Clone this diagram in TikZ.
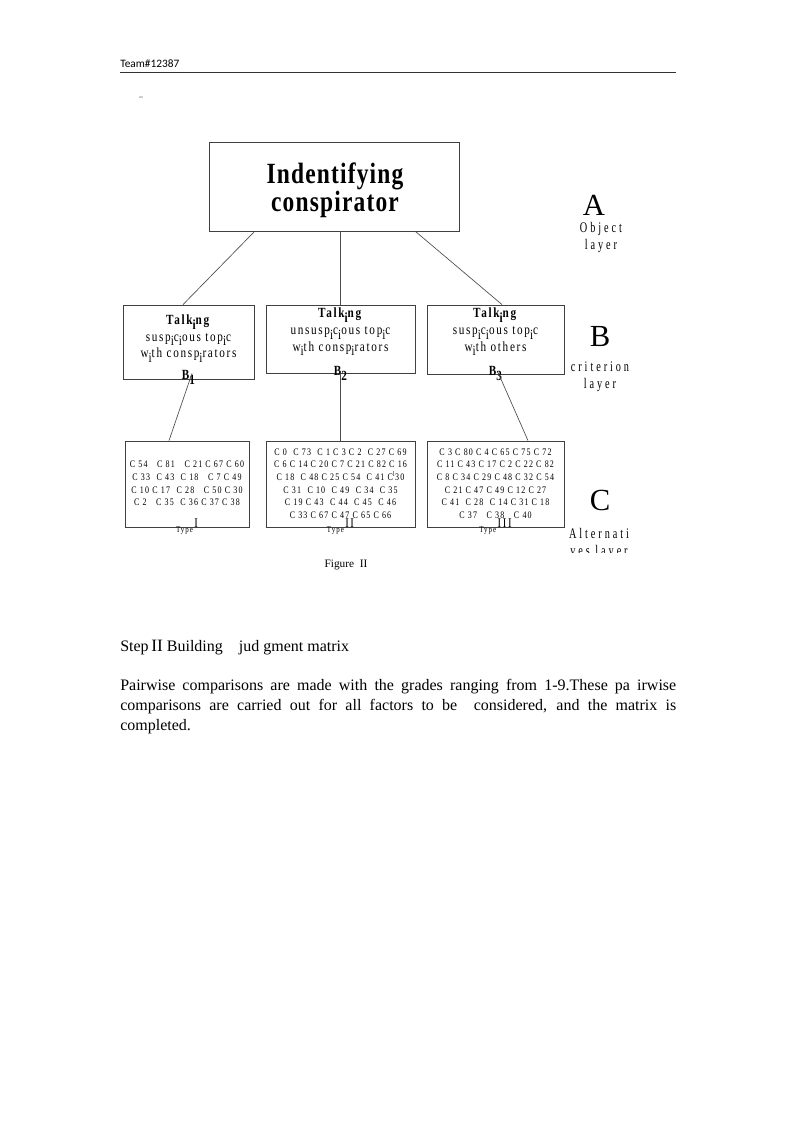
\documentclass[tikz,border=0pt]{standalone}
\usepackage{fontspec}
\setmainfont{Liberation Serif}
\newfontfamily\headfont{Carlito}
\newfontfamily\narrowfont{Liberation Serif}[FakeStretch=0.8,LetterSpace=12]
\newfontfamily\titlefont{Liberation Serif}[FakeStretch=0.8,LetterSpace=4]
\newfontfamily\layerfont{Liberation Serif}[FakeStretch=0.7,LetterSpace=20]
\usetikzlibrary{positioning, calc}
\newcommand{\lowi}{\raisebox{-3.5pt}{i}}
\newcommand{\typeno}[1]{Type\,\raisebox{3.75pt}{\fontsize{10}{10}\selectfont #1}}

\begin{document}
\begin{tikzpicture}[x=0.75pt, y=-0.75pt, every node/.style={inner sep=0pt},
  box/.style={draw=black!75, line width=0.6pt},
  link/.style={draw=black!70, line width=0.5pt},
  btext/.style={font=\narrowfont\fontsize{10.5}{12.5}\selectfont, align=center, anchor=north},
  ctext/.style={font=\narrowfont\fontsize{7.5}{9.4}\selectfont, align=center},
  typetext/.style={font=\narrowfont\fontsize{6.5}{7}\selectfont, anchor=base},
  bigletter/.style={font=\fontsize{23}{23}\selectfont},
  layertext/.style={font=\layerfont\fontsize{11}{12.75}\selectfont, align=center}]
  \useasboundingbox (0,0) rectangle (794,1123);

  \node[anchor=base west, font=\headfont\fontsize{8.5}{10}\selectfont] (team) at (120,68) {Team\#12387};
  \draw[line width=1pt, black!80] (120,72.5) -- (676,72.5);
  \node[font=\headfont\fontsize{8}{8}\selectfont, text=black!60] (dash) at (141,99) {–};

  \node[box, minimum width=187.5pt, minimum height=66.75pt] (top) at (334,186.5) {};
  \node[font=\titlefont\bfseries\fontsize{22}{21}\selectfont, align=center] (title) at (335,190)
    {Indentifying\\conspirator};

  \node[box, minimum width=98.25pt, minimum height=55.5pt] (b1) at (188.5,342) {};
  \node[box, minimum width=111.75pt, minimum height=51pt] (b2) at (340.5,339) {};
  \node[box, minimum width=102.75pt, minimum height=51.75pt] (b3) at (495.5,339.5) {};
  \node[btext] (b1t) at (188.5,314.5)
    {\textbf{Talk\lowi ng}\\ susp\lowi c\lowi ous top\lowi c\\ w\lowi th consp\lowi rators\\[4pt]
     \textbf{B\raisebox{-3.5pt}{1}}};
  \node[btext] (b2t) at (340.5,308)
    {\textbf{Talk\lowi ng}\\ unsusp\lowi c\lowi ous top\lowi c\\ w\lowi th consp\lowi rators\\[6pt]
     \textbf{B\raisebox{-3.5pt}{2}}};
  \node[btext] (b3t) at (495.5,308)
    {\textbf{Talk\lowi ng}\\ susp\lowi c\lowi ous top\lowi c\\ w\lowi th others\\[6pt]
     \textbf{B\raisebox{-3.5pt}{3}}};

  \node[box, minimum width=93pt, minimum height=64.5pt] (c1) at (187,484) {};
  \node[box, minimum width=111.75pt, minimum height=64.5pt] (c2) at (340.5,484) {};
  \node[box, minimum width=102.75pt, minimum height=64.5pt] (c3) at (495.5,484) {};
  \node[ctext] (c1t) at (187,483.5)
    {C 54\ \ \ C 81\ \ \ C 21 C 67 C 60\\ C 33\ \ C 43\ \ C 18\ \ \ C 7 C 49\\
     C 10 C 17\ \ C 28\ \ \ C 50 C 30\\ C 2\ \ \ C 35\ \ C 36 C 37 C 38};
  \node[ctext] (c2t) at (340.5,483.5)
    {C 0\ \ C 73\ \ C 1 C 3 C 2\ \ C 27 C 69\\ C 6\ C 14\ C 20 C 7 C 21\ C 82 C 16\\
     C 18\ \ C 48\ C 25 C 54\ \ C 41 C\textsuperscript{l}30\\ C 31\ \ C 10\ \ C 49\ \ C 34\ \ C 35\\
     C 19 C 43\ \ C 44\ \ C 45\ \ C 46\\ C 33 C 67\ C 47\ C 65\ C 66};
  \node[ctext] (c3t) at (495.5,483.5)
    {C 3\ C 80\ C 4\ C 65 C 75 C 72\\ C 11 C 43\ C 17\ C 2\ C 22 C 82\\
     C 8\ C 34\ C 29\ C 48\ C 32 C 54\\ C 21\ C 47\ C 49\ C 12\ C 27\\
     C 41\ \ C 28\ \ C 14\ C 31 C 18\\ C 37\ \ \ C 38\ \ \ C 40};
  \node[typetext] (t1) at ($(c1.south)+(0,5)$) {\typeno{I}};
  \node[typetext] (t2) at ($(c2.south)+(0,5)$) {\typeno{II}};
  \node[typetext] (t3) at ($(c3.south)+(0,5)$) {\typeno{III}};

  \draw[link] ($(top.south west)+(46,0)$) -- ($(b1.north)+(-5.5,0)$);
  \draw[link] (top.south -| b2.north) -- (b2.north);
  \draw[link] ($(top.south east)+(-44,0)$) -- ($(b3.north)+(6.5,0)$);
  \draw[link] ($(b1.south)+(3.5,-6)$) -- ($(c1.north)+(-18,0)$);
  \draw[link] (b2.south) -- (c2.north);
  \draw[link] ($(b3.south)+(2.5,-2)$) -- ($(c3.north)+(32.5,0)$);

  \node[bigletter] (la) at (594,205) {A};
  \node[layertext] (lat) at (601,237) {Object\\layer};
  \node[bigletter] (lb) at (600,337) {B};
  \node[layertext] (lbt) at (600,377) {criterion\\layer};
  \node[bigletter] (lc) at (600,500) {C};
  \begin{scope}
    \clip (540,515) rectangle (660,552);
    \node[layertext] (lct) at (599,543) {Alternati\\ves layer};
  \end{scope}

  \node[font=\fontsize{8.5}{10}\selectfont] (cap) at (346,565) {Figure\ \ II};

  \node[anchor=base west, font=\fontsize{12}{14}\selectfont] (step) at (120,651)
    {Step\,{\fontsize{13}{13}\selectfont II} Building\hspace{12pt}jud gment matrix};
  \node[anchor=base west, font=\fontsize{12}{15}\selectfont] (p1) at (120,690)
    {\makebox[417pt][s]{Pairwise comparisons are made with the grades ranging from 1-9.These pa irwise}};
  \node[anchor=base west, font=\fontsize{12}{15}\selectfont] (p2) at (120,710)
    {\makebox[417pt][s]{comparisons are carried out for all factors to be\ \ considered, and the matrix is}};
  \node[anchor=base west, font=\fontsize{12}{15}\selectfont] (p3) at (120,730) {completed.};
\end{tikzpicture}
\end{document}
